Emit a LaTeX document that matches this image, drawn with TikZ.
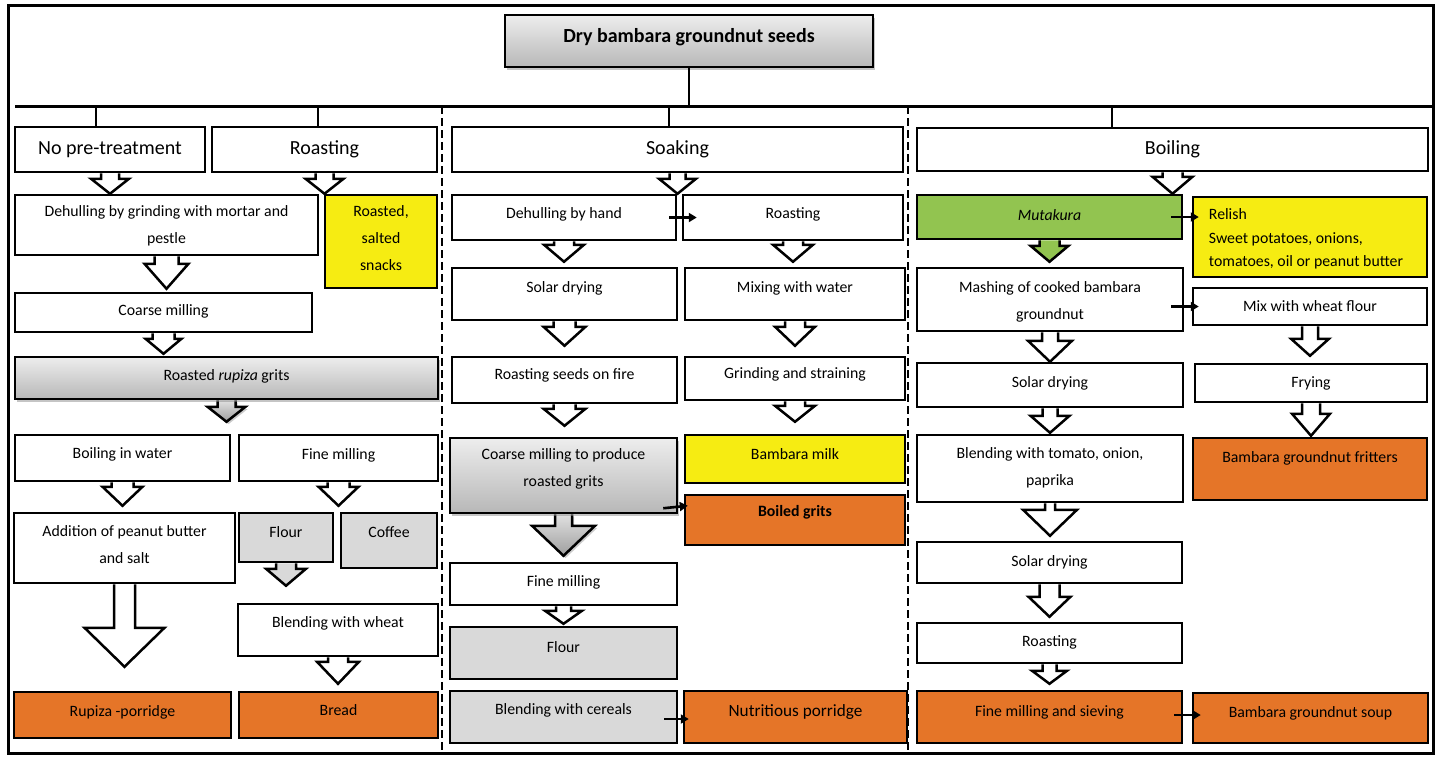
\documentclass[tikz,border=0pt]{standalone}
\usepackage{fontspec}
\setmainfont{Carlito}
\usetikzlibrary{arrows.meta,calc,shadows}
\definecolor{boxyellow}{RGB}{246,236,18}
\definecolor{boxorange}{RGB}{229,117,40}
\definecolor{boxgreen}{RGB}{146,196,80}
\definecolor{boxgray}{RGB}{217,217,217}
\pgfdeclarelayer{back}
\pgfsetlayers{back,main}
\tikzset{
  stepbox/.style={draw=black, line width=1.25pt, fill=white, inner sep=0pt},
  steptext/.style={font=\fontsize{7.9}{13.5}\selectfont, align=center, inner sep=0pt},
  shadebox/.style={top color=white!93!black, bottom color=white!72!black,
    drop shadow={shadow xshift=1.2pt, shadow yshift=-1.5pt, fill=black!45}},
  arrowshade/.style={top color=white!88!black, bottom color=white!62!black,
    drop shadow={shadow xshift=1pt, shadow yshift=-1.2pt, fill=black!40}},
  blockarrow/.style={draw=black, line width=1.25pt, line join=miter},
  sidearrow/.style={line width=1.3pt, -{Triangle[length=4pt, width=4.5pt]}},
  divider/.style={line width=1pt, dash pattern=on 4pt off 2pt}
}
\newcommand{\headfont}{\fontsize{10}{12}\selectfont}
% box from (x1,y1) to (x2,y2) in pixels, text moved by dy
\newcommand{\stepnode}[8][]{%
  \node[stepbox, #1, minimum width={(#5-#3)*0.5pt}, minimum height={(#6-#4)*0.5pt}] (#2) at ({(#3+#5)/2},{(#4+#6)/2}) {};
  \node[steptext] (#2-t) at ($(#2.center)+(0,#7)$) {#8};
}
% hollow arrow: from, to, shaft half width, head half width, head length, gap
\newcommand{\flowarrow}[7][fill=white]{%
  \coordinate (tip) at ($(#3.north -| #2.south)+(0,-#7)$);
  \begin{pgfonlayer}{back}
  \draw[blockarrow, #1] ($(#2.south)+(-#4,0)$) -- ($(tip)+(-#4,-#6)$) -- ($(tip)+(-#5,-#6)$) -- (tip)
    -- ($(tip)+(#5,-#6)$) -- ($(tip)+(#4,-#6)$) -- ($(#2.south)+(#4,0)$);
  \end{pgfonlayer}
}

\begin{document}
\begin{tikzpicture}[x=0.5pt, y=-0.5pt]
  \useasboundingbox (0,0) rectangle (1440,757);
  \draw[line width=1.5pt] (8,5) rectangle (1433,753);

  \stepnode[shadebox, line width=1pt]{title}{505}{15}{873}{67}{-4}{\headfont\bfseries Dry bambara groundnut seeds}

  \coordinate (busL) at (15,106);
  \coordinate (busR) at (1433,106);
  \draw[line width=1.5pt] (busL) -- (busR);
  \draw[line width=1.3pt] (title.south) -- (title.south |- busL);
  \draw[divider] (442,106) -- (442,753);
  \draw[divider] (908,106) -- (908,753);

  % pre-treatments
  \stepnode{nopre}{15}{127}{205}{172}{0}{\headfont No pre-treatment}
  \stepnode{roastA}{212}{127}{437}{172}{0}{\headfont Roasting}
  \stepnode{soak}{452}{127}{903}{172}{0}{\headfont Soaking}
  \stepnode{boil}{917}{128}{1428}{171}{0}{\headfont Boiling}
  \coordinate (s1) at (96,106);
  \coordinate (s2) at (318,106);
  \coordinate (s3) at (669,106);
  \coordinate (s4) at (1112,106);
  \draw[line width=1.3pt] (s1) -- (s1 |- nopre.north);
  \draw[line width=1.3pt] (s2) -- (s2 |- roastA.north);
  \draw[line width=1.3pt] (s3) -- (s3 |- soak.north);
  \draw[line width=1.3pt] (s4) -- (s4 |- boil.north);

  % no pre-treatment and roasting
  \stepnode{dehullA}{15}{195}{318}{255}{1}{Dehulling by grinding with mortar and\\pestle}
  \stepnode[fill=boxyellow]{snacks}{325}{195}{437}{288}{-3}{Roasted,\\salted\\snacks}
  \stepnode{coarseA}{15}{293}{312}{332}{-1}{Coarse milling}
  \stepnode[shadebox]{grits}{15}{357}{438}{399}{-2}{Roasted \textit{rupiza} grits}
  \stepnode{boilw}{15}{435}{230}{481}{-4}{Boiling in water}
  \stepnode{finemA}{239}{435}{438}{481}{-3}{Fine milling}
  \stepnode{addit}{14}{513}{235}{583}{-3}{Addition of peanut butter\\and salt}
  \stepnode[fill=boxgray]{flourA}{239}{513}{333}{562}{-5}{Flour}
  \stepnode[fill=boxgray]{coffee}{341}{513}{437}{568}{-8}{Coffee}
  \stepnode{blendw}{238}{604}{438}{656}{-7}{Blending with wheat}
  \stepnode[fill=boxorange]{rupiza}{14}{692}{231}{738}{-3}{Rupiza -porridge}
  \stepnode[fill=boxorange]{bread}{239}{692}{438}{738}{-5}{Bread}

  \flowarrow{nopre}{dehullA}{9}{19}{15}{0}
  \flowarrow{roastA}{snacks}{9}{19}{15}{0}
  \flowarrow{dehullA}{coarseA}{12}{22}{25}{3}
  \flowarrow{coarseA}{grits}{11}{18}{15}{2}
  \flowarrow[arrowshade]{grits}{boilw}{9}{19}{15}{12}
  \flowarrow{boilw}{addit}{11}{20}{19}{6}
  \flowarrow{finemA}{flourA}{11}{20}{19}{6}
  \flowarrow[fill=boxgray]{flourA}{blendw}{10}{20}{17}{17}
  \flowarrow{addit}{rupiza}{10.5}{40}{39}{24}
  \flowarrow{blendw}{bread}{10}{21}{22}{7}

  % soaking
  \stepnode{dehullB}{452}{195}{676}{240}{-3}{Dehulling by hand}
  \stepnode{roastB}{683}{195}{903}{240}{-3}{Roasting}
  \stepnode{solarB}{452}{268}{677}{320}{-6}{Solar drying}
  \stepnode{mixw}{685}{268}{905}{320}{-6}{Mixing with water}
  \stepnode{roastfire}{452}{357}{677}{403}{-5}{Roasting seeds on fire}
  \stepnode{grind}{685}{357}{905}{400}{-4}{Grinding and straining}
  \stepnode[shadebox]{coarseB}{450}{438}{677}{513}{-7}{Coarse milling to produce\\roasted grits}
  \stepnode[fill=boxyellow]{milk}{685}{435}{905}{483}{-5}{Bambara milk}
  \stepnode[fill=boxorange]{boiled}{685}{495}{905}{545}{-8}{\bfseries Boiled grits}
  \stepnode{finemB}{450}{563}{677}{605}{-2}{Fine milling}
  \stepnode[fill=boxgray]{flourB}{450}{627}{677}{679}{-6}{Flour}
  \stepnode[fill=boxgray]{blendc}{450}{691}{677}{743}{-7}{Blending with cereals}
  \stepnode[fill=boxorange]{porridge}{684}{691}{907}{743}{-5}{\fontsize{8.6}{10}\selectfont Nutritious porridge}

  \flowarrow{soak}{dehullB}{8}{18.5}{15}{0}
  \flowarrow{dehullB}{solarB}{10}{20}{17}{5}
  \flowarrow{roastB}{mixw}{10}{20}{17}{5}
  \flowarrow{solarB}{roastfire}{11}{21}{19}{10}
  \flowarrow{mixw}{grind}{10}{20}{19}{10}
  \flowarrow{roastfire}{coarseB}{11}{21}{17}{11}
  \flowarrow{grind}{milk}{10}{20}{16}{12}
  \flowarrow[arrowshade]{coarseB}{finemB}{8.5}{31.5}{30}{6}
  \flowarrow{finemB}{flourB}{7.5}{18.5}{13}{2}

  \draw[sidearrow] ($(dehullB.east)+(-8,0)$) -- ($(roastB.west)+(15,0)$);
  \draw[sidearrow] ($(coarseB.south east)+(-15,-6)$) -- ($(boiled.north west)+(4,12)$);
  \draw[sidearrow] ($(blendc.east)+(-14,2)$) -- ($(porridge.west)+(6,2)$);

  % boiling
  \stepnode[fill=boxgreen]{mutakura}{917}{195}{1182}{239}{-2}{\itshape Mutakura}
  \node[stepbox, fill=boxyellow, minimum width=117pt, minimum height=40pt] (relish) at (1310,237) {};
  \node[steptext, align=left, font=\fontsize{7.9}{11.75}\selectfont] (relish-t) at ($(relish.center)+(-4,2)$) {Relish\\Sweet potatoes, onions,\\tomatoes, oil or peanut butter};
  \stepnode{mash}{917}{268}{1183}{331}{2}{Mashing of cooked bambara\\groundnut}
  \stepnode{mixf}{1193}{288}{1427}{325}{0}{Mix with wheat flour}
  \stepnode{solarC1}{917}{363}{1183}{407}{-2}{Solar drying}
  \stepnode{frying}{1195}{364}{1427}{402}{0}{Frying}
  \stepnode{blendt}{917}{435}{1183}{502}{-1}{Blending with tomato, onion,\\paprika}
  \stepnode[fill=boxorange]{fritters}{1193}{438}{1427}{500}{-11}{Bambara groundnut fritters}
  \stepnode{solarC2}{917}{542}{1182}{583}{0}{Solar drying}
  \stepnode{roastC}{917}{623}{1182}{663}{-1}{Roasting}
  \stepnode[fill=boxorange]{sieve}{917}{691}{1182}{743}{-5}{Fine milling and sieving}
  \stepnode[fill=boxorange]{soup}{1193}{693}{1428}{743}{-5}{Bambara groundnut soup}

  \flowarrow{boil}{mutakura}{10}{20}{17}{0}
  \flowarrow[fill=boxgreen]{mutakura}{mash}{10}{19}{16}{5}
  \flowarrow{mash}{solarC1}{8}{22}{21}{0}
  \flowarrow{mixf}{frying}{8}{19}{17}{7}
  \flowarrow{solarC1}{blendt}{7.5}{19.5}{17}{1}
  \flowarrow{frying}{fritters}{9}{19}{22}{1}
  \flowarrow{blendt}{solarC2}{5}{27}{26}{5}
  \flowarrow{solarC2}{roastC}{10}{21}{20}{5}
  \flowarrow{roastC}{sieve}{7}{17.5}{13}{6}

  \draw[sidearrow] ($(mutakura.east)+(-12,0)$) -- ($(relish.west |- mutakura.east)+(7,0)$);
  \draw[sidearrow] ($(mash.east |- mixf.west)+(-13,0)$) -- ($(mixf.west)+(7,0)$);
  \draw[sidearrow] ($(sieve.east)+(-9,-2)$) -- ($(soup.west)+(9,-3)$);
\end{tikzpicture}
\end{document}
